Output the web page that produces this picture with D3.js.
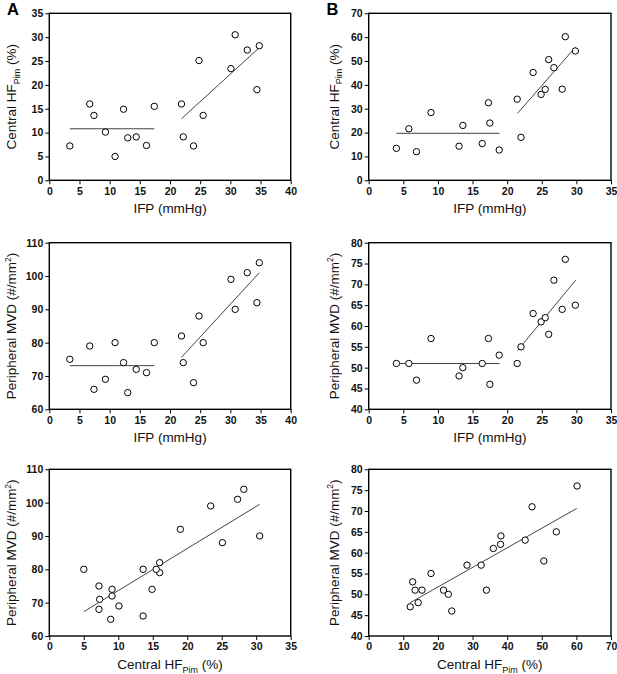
<!DOCTYPE html>
<html><head><meta charset="utf-8">
<script src="https://cdn.jsdelivr.net/npm/d3@7"></script>
<style>
html,body{margin:0;padding:0;background:#fff;}
svg{display:block;font-family:"Liberation Sans",Arial,sans-serif;}
</style></head>
<body><svg id="c" width="617" height="674"></svg>
<script>
// ---- data ----
const ifpA = [3.4, 6.7, 7.4, 9.3, 10.9, 12.3, 13.0, 14.4, 16.1, 17.4, 21.9, 22.2, 23.9, 24.8, 25.5, 30.1, 30.8, 32.8, 34.4, 34.8];
const hfA  = [7.2, 16.0, 13.6, 10.1, 5.0, 14.9, 8.9, 9.1, 7.3, 15.5, 16.0, 9.1, 7.2, 25.1, 13.6, 23.4, 30.5, 27.3, 19.0, 28.2];
const mvdA = [75, 79, 66, 69, 80, 74, 65, 72, 71, 80, 82, 74, 68, 88, 80, 99, 90, 101, 92, 104];

const ifpB = [4.0, 5.8, 6.9, 9.0, 13.05, 13.6, 16.4, 17.3, 17.5, 18.85, 21.45, 22.0, 23.75, 24.9, 25.5, 26.0, 26.75, 27.95, 28.4, 29.85];
const hfB  = [13.4, 21.6, 12.0, 28.4, 14.3, 23.0, 15.4, 32.5, 24.0, 12.7, 34.0, 18.0, 45.2, 36.0, 38.1, 50.6, 47.2, 38.2, 60.2, 54.2];
const mvdB = [51, 51, 47, 57, 48, 50, 51, 57, 46, 53, 51, 55, 63, 61, 62, 58, 71, 64, 76, 65];

// fitted lines: [x1, y1, x2, y2] in data units
const fitA1 = [[3.4, 10.8, 17.4, 10.8], [21.9, 12.9, 34.8, 27.8]];
const fitA2 = [[3.4, 73.1, 17.4, 73.1], [21.9, 75.6, 34.8, 101.0]];
const fitA3 = [[5.0, 67.3, 30.5, 99.5]];
const fitB1 = [[4.0, 19.7, 18.9, 19.7], [21.5, 28.1, 29.9, 55.9]];
const fitB2 = [[4.0, 51.0, 18.9, 51.0], [21.5, 54.1, 29.9, 71.0]];
const fitB3 = [[12.0, 48.0, 60.1, 70.6]];

// ticks
const ticksIFPA = [0, 5, 10, 15, 20, 25, 30, 35, 40];
const ticksIFPB = [0, 5, 10, 15, 20, 25, 30, 35];
const ticksHFA  = [0, 5, 10, 15, 20, 25, 30, 35];
const ticksHFB  = [0, 10, 20, 30, 40, 50, 60, 70];
const ticksMVDA = [60, 70, 80, 90, 100, 110];
const ticksMVDB = [40, 45, 50, 55, 60, 65, 70, 75, 80];

const panelLetters = ["A", "B"];

// ---- layout ----
const svg = d3.select("#c");
const cols = [{x0: 49.3, x1: 290.7, yt: 16, letterX: 7}, {x0: 368.7, x1: 611, yt: 338.5, letterX: 326.5}];
const rows = [{y0: 13.3, y1: 180.3}, {y0: 242.7, y1: 409.3}, {y0: 469.3, y1: 636}];

const panels = [
  {c:0, r:0, xs:ifpA, ys:hfA, xd:[0,40], yd:[0,35], xt:ticksIFPA, yt:ticksHFA, fits:fitA1, xl:"ifp", yl:"hf"},
  {c:1, r:0, xs:ifpB, ys:hfB, xd:[0,35], yd:[0,70], xt:ticksIFPB, yt:ticksHFB, fits:fitB1, xl:"ifp", yl:"hf"},
  {c:0, r:1, xs:ifpA, ys:mvdA, xd:[0,40], yd:[60,110], xt:ticksIFPA, yt:ticksMVDA, fits:fitA2, xl:"ifp", yl:"mvd"},
  {c:1, r:1, xs:ifpB, ys:mvdB, xd:[0,35], yd:[40,80], xt:ticksIFPB, yt:ticksMVDB, fits:fitB2, xl:"ifp", yl:"mvd"},
  {c:0, r:2, xs:hfA, ys:mvdA, xd:[0,35], yd:[60,110], xt:ticksHFA, yt:ticksMVDA, fits:fitA3, xl:"hf", yl:"mvd"},
  {c:1, r:2, xs:hfB, ys:mvdB, xd:[0,70], yd:[40,80], xt:ticksHFB, yt:ticksMVDB, fits:fitB3, xl:"hf", yl:"mvd"},
];

function hfLabel(t){
  t.append("tspan").text("Central HF");
  t.append("tspan").attr("font-size", 9).attr("dy", 3.5).text("Pim");
  t.append("tspan").attr("dy", -3.5).text(" (%)");
}
function mvdLabel(t){
  t.append("tspan").text("Peripheral MVD (#/mm");
  t.append("tspan").attr("font-size", 8.5).attr("dy", -5.5).text("2");
  t.append("tspan").attr("dy", 5.5).text(")");
}

panels.forEach(p => {
  const C = cols[p.c], R = rows[p.r];
  const x = d3.scaleLinear().domain(p.xd).range([C.x0, C.x1]);
  const y = d3.scaleLinear().domain(p.yd).range([R.y1, R.y0]);
  const g = svg.append("g");

  const xa = g.append("g").attr("transform", `translate(0,${R.y1})`)
    .call(d3.axisBottom(x).tickValues(p.xt).tickSize(4).tickPadding(3).tickFormat(d3.format("d")));
  const ya = g.append("g").attr("transform", `translate(${C.x0},0)`)
    .call(d3.axisLeft(y).tickValues(p.yt).tickSize(4).tickPadding(2).tickFormat(d3.format("d")));
  [xa, ya].forEach(a => {
    a.select(".domain").remove();
    a.selectAll("line").attr("stroke", "#000").attr("stroke-width", 1);
    a.selectAll("text").attr("font-size", 10.5).attr("font-weight", "bold").attr("fill", "#111")
      .attr("font-family", "'Liberation Sans',Arial,sans-serif");
  });

  g.append("rect").attr("x", C.x0).attr("y", R.y0).attr("width", C.x1 - C.x0).attr("height", R.y1 - R.y0)
    .attr("fill", "none").attr("stroke", "#000").attr("stroke-width", 1.4);

  g.selectAll("line.fit").data(p.fits).join("line").attr("class", "fit")
    .attr("x1", d => x(d[0])).attr("y1", d => y(d[1])).attr("x2", d => x(d[2])).attr("y2", d => y(d[3]))
    .attr("stroke", "#444").attr("stroke-width", 1);

  g.selectAll("circle").data(p.xs.map((v, i) => [v, p.ys[i]])).join("circle")
    .attr("cx", d => x(d[0])).attr("cy", d => y(d[1])).attr("r", 3.2)
    .attr("fill", "#fff").attr("stroke", "#000").attr("stroke-width", 1);

  // x title
  const xt = g.append("text").attr("x", (C.x0 + C.x1) / 2).attr("y", R.y1 + 33)
    .attr("text-anchor", "middle").attr("font-size", 13.5).attr("fill", "#111");
  if (p.xl === "ifp") xt.text("IFP (mmHg)"); else hfLabel(xt);

  // y title
  const yt = g.append("text").attr("transform", `translate(${C.yt},${(R.y0 + R.y1) / 2}) rotate(-90)`)
    .attr("text-anchor", "middle").attr("font-size", 13.5).attr("fill", "#111");
  if (p.yl === "hf") hfLabel(yt); else mvdLabel(yt);

  if (p.r === 0) {
    g.append("text").attr("x", C.letterX).attr("y", 15).attr("font-size", 16.5).attr("font-weight", "bold")
      .attr("fill", "#000").text(panelLetters[p.c]);
  }
});
</script>
</body></html>
